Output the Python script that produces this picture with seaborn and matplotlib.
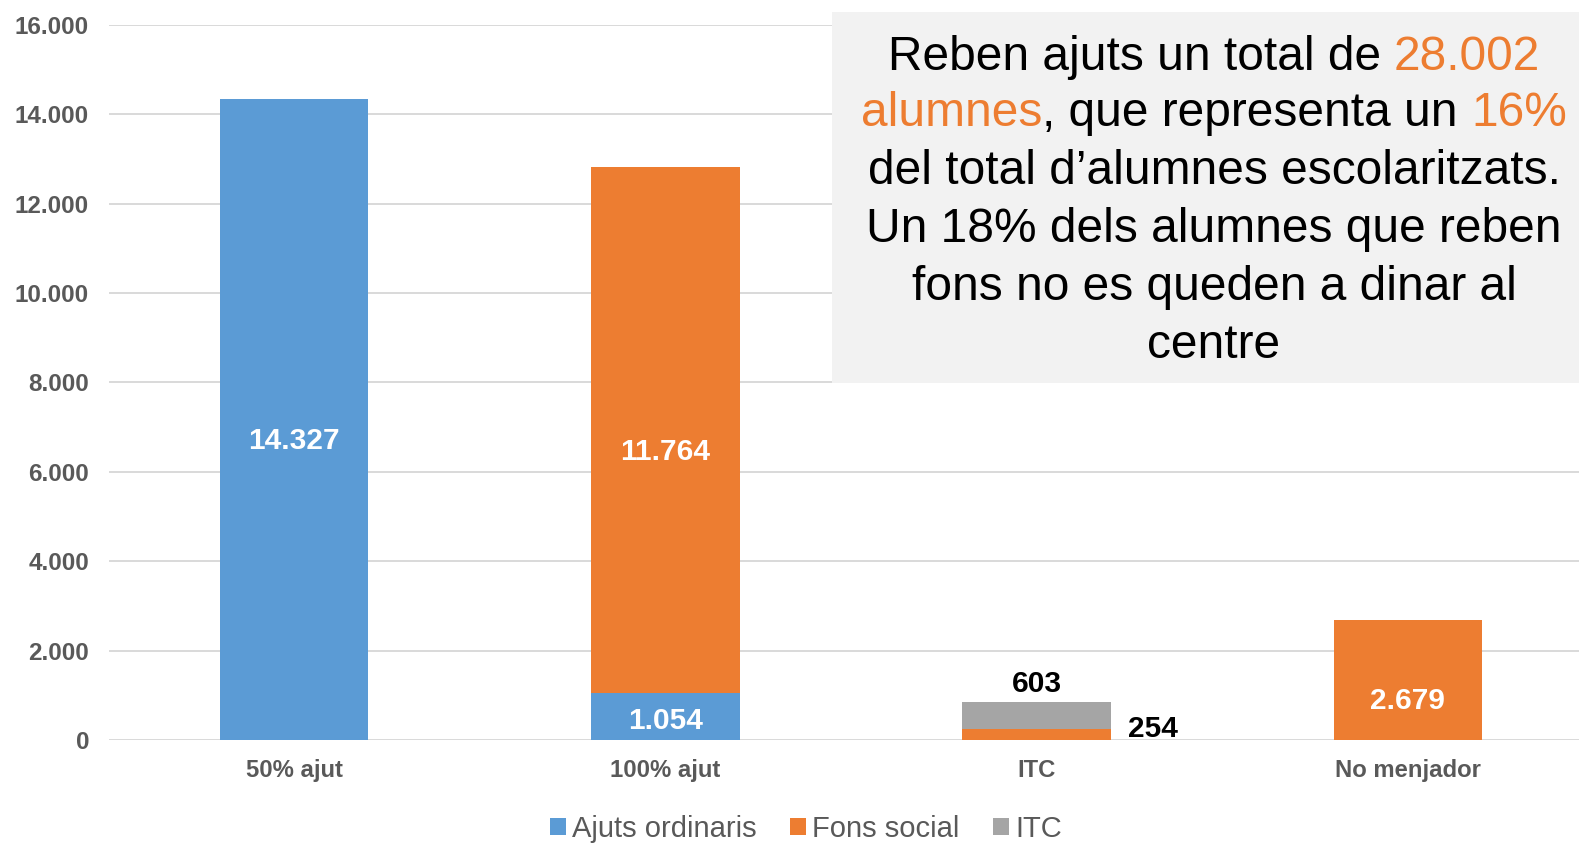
import matplotlib
matplotlib.use("Agg")
import matplotlib.pyplot as plt
import seaborn as sns
import pandas as pd
import numpy as np
from matplotlib.patches import Rectangle, Patch
from matplotlib.ticker import FixedLocator, FuncFormatter

# ---------------- data ----------------
categories = ["50% ajut", "100% ajut", "ITC", "No menjador"]
ajuts_ordinaris = [14327, 1054, 0, 0]
fons_social = [0, 11764, 254, 2679]
itc = [0, 0, 603, 0]
series_names = ["Ajuts ordinaris", "Fons social", "ITC"]
y_ticks = [0, 2000, 4000, 6000, 8000, 10000, 12000, 14000, 16000]

box_lines = [
    [("Reben ajuts un total de ", "black"), ("28.002", "#ED7D31")],
    [("alumnes", "#ED7D31"), (", que representa un ", "black"), ("16%", "#ED7D31")],
    [("del total d\u2019alumnes escolaritzats.", "black")],
    [("Un 18% dels alumnes que reben", "black")],
    [("fons no es queden a dinar al", "black")],
    [("centre", "black")],
]

colors = ["#5B9BD5", "#ED7D31", "#A5A5A5"]
gray_txt = "#595959"

sns.set_theme(style="white")
plt.rcParams["font.family"] = ["Liberation Sans", "DejaVu Sans"]

W, H = 1579, 843
fig = plt.figure(figsize=(W / 100, H / 100), dpi=100)
fig.patch.set_facecolor("white")
ax = fig.add_axes([108.5 / W, (H - 740) / H, 1485 / W, 715.3 / H])

df = pd.DataFrame({"cat": categories,
                   "Ajuts ordinaris": ajuts_ordinaris,
                   "Fons social": fons_social,
                   "ITC": itc})

bottom = np.zeros(len(categories))
for name, col in zip(series_names, colors):
    vals = df[name].to_numpy(dtype=float)
    sns.barplot(x=df["cat"], y=vals, bottom=bottom.copy(), color=col,
                width=0.4, ax=ax, order=categories, errorbar=None,
                saturation=1, linewidth=0, zorder=3)
    bottom += vals

ax.set_xlim(-0.5, 3.5)
ax.set_ylim(0, 16000)
ax.yaxis.set_major_locator(FixedLocator(y_ticks))
ax.yaxis.set_major_formatter(FuncFormatter(lambda v, p: f"{int(v):,}".replace(",", ".")))
ax.grid(axis="y", color="#d9d9d9", linewidth=1.4, zorder=0)
ax.grid(axis="x", visible=False)
for s in ax.spines.values():
    s.set_visible(False)
ax.set_xlabel("")
ax.set_ylabel("")
ax.tick_params(axis="y", length=0, pad=14, labelsize=17.5, labelcolor=gray_txt)
ax.tick_params(axis="x", length=0, pad=14, labelsize=17.2, labelcolor=gray_txt)
for lab in ax.get_xticklabels() + ax.get_yticklabels():
    lab.set_fontweight("bold")

# ---------------- data labels ----------------
def fmt(v):
    return f"{int(v):,}".replace(",", ".")

lab_kw = dict(fontsize=21.5, fontweight="bold", ha="center", va="center",
              textcoords="offset points", zorder=5)
ax.annotate(fmt(ajuts_ordinaris[0]), xy=(0, ajuts_ordinaris[0] / 2), xytext=(0, -15),
            color="white", **lab_kw)
ax.annotate(fmt(ajuts_ordinaris[1]), xy=(1, ajuts_ordinaris[1] / 2), xytext=(0, -3),
            color="white", **lab_kw)
ax.annotate(fmt(fons_social[1]), xy=(1, ajuts_ordinaris[1] + fons_social[1] / 2),
            xytext=(0, -16), color="white", **lab_kw)
ax.annotate(fmt(fons_social[3]), xy=(3, fons_social[3] / 2), xytext=(0, -15),
            color="white", **lab_kw)
# ITC bar: labels outside
ax.annotate(fmt(itc[2]), xy=(2, fons_social[2] + itc[2]), xytext=(0, 13),
            color="black", **lab_kw)
lab_kw_left = dict(lab_kw, ha="left")
ax.annotate(fmt(fons_social[2]), xy=(2.2, fons_social[2]), xytext=(12, 0),
            color="black", **lab_kw_left)

# ---------------- legend ----------------
handles = [Patch(facecolor=c, edgecolor="none", label=n) for n, c in zip(series_names, colors)]
leg = fig.legend(handles=handles, loc="center", bbox_to_anchor=(806 / W, (H - 829) / H),
                 ncol=3, frameon=False, fontsize=21, handlelength=0.53,
                 handleheight=0.53, handletextpad=0.22, columnspacing=1.15)
for t in leg.get_texts():
    t.set_color(gray_txt)

# ---------------- annotation box ----------------
fig.patches.append(Rectangle((832 / W, (H - 383) / H), (W - 832) / W, (383 - 12) / H,
                             transform=fig.transFigure, facecolor="#F2F2F2",
                             edgecolor="none", zorder=4))

renderer = fig.canvas.get_renderer()
fs_box = 34.5
probe = fig.text(0, 0, "|", fontsize=fs_box)
wbar = probe.get_window_extent(renderer).width


def width_of(s):
    probe.set_text(s + "|")
    return probe.get_window_extent(renderer).width - wbar


xc = 1214
y_centers = [52, 109, 166, 225, 283, 340]
for segs, yc in zip(box_lines, y_centers):
    full = "".join(s for s, _ in segs)
    total = width_of(full)
    x0 = xc - total / 2
    prefix = ""
    for s, c in segs:
        off = width_of(prefix) if prefix else 0.0
        fig.text((x0 + off) / W, (H - yc) / H, s, color=c, fontsize=fs_box,
                 ha="left", va="center_baseline", zorder=6)
        prefix += s
probe.remove()

fig.savefig("out.png", dpi=100)
